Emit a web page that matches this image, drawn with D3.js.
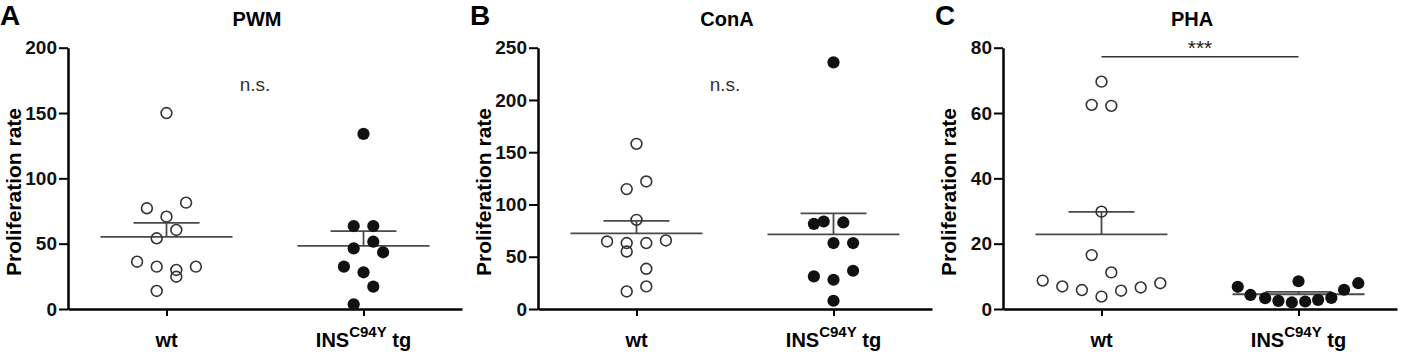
<!DOCTYPE html>
<html>
<head>
<meta charset="utf-8">
<script src="https://cdn.jsdelivr.net/npm/d3@7"></script>
<style>
  body { margin: 0; background: #fff; }
  svg { display: block; font-family: "Liberation Sans", Arial, Helvetica, sans-serif; }
</style>
</head>
<body>
<svg id="chart" width="1411" height="354"></svg>
<script>
//groups on the x axis
var groups = ['wt', 'tg'];

//PWM values, dodge column per point
var pwmWt = [150, 77.1, 81.4, 70.7, 60.5, 54.1, 36.2, 32.4, 29.9, 24.7, 32.4, 13.8];
var pwmWtCol = [0, -2, 2, 0, 1, -1, -3, -1, 1, 1, 3, -1];
var pwmTg = [134, 63.5, 63.5, 51.5, 46.4, 43.4, 32.4, 28.1, 17.1, 3.6];
var pwmTgCol = [0, -1, 1, 1, -1, 2, -2, 0, 1, -1];
var pwmTicks = [0, 50, 100, 150, 200];

//ConA
var conaWt = [158, 122, 114.7, 85.3, 64.6, 63.1, 63.1, 65.6, 55, 38.5, 21.6, 16.8];
var conaWtCol = [0, 1, -1, 0, -3, -1, 1, 3, -1, 1, 1, -1];
var conaTg = [236, 81.5, 83.7, 82.8, 63.1, 63.1, 31.2, 28, 36.6, 7.9];
var conaTgCol = [0, -2, -1, 1, 0, 2, -2, 0, 2, 0];
var conaTicks = [0, 50, 100, 150, 200, 250];

//PHA
var phaWt = [69.6, 62.5, 62.2, 29.8, 16.5, 11.2, 8.7, 6.9, 5.8, 3.8, 5.6, 6.6, 7.9];
var phaWtCol = [0, -1, 1, 0, -1, 1, -6, -4, -2, 0, 2, 4, 6];
var phaTg = [6.8, 4.3, 3.3, 2.5, 2.0, 2.3, 2.8, 3.4, 5.9, 7.9, 8.5];
var phaTgCol = [-6.2, -4.9, -3.4, -2.05, -0.68, 0.68, 2, 3.35, 4.65, 6.1, 0];
var phaTicks = [0, 20, 40, 60, 80];

var panels = [
  {letter: 'A', title: 'PWM', ticks: pwmTicks, wt: pwmWt, wtCol: pwmWtCol, tg: pwmTg, tgCol: pwmTgCol, sig: 'n.s.', left: 68},
  {letter: 'B', title: 'ConA', ticks: conaTicks, wt: conaWt, wtCol: conaWtCol, tg: conaTg, tgCol: conaTgCol, sig: 'n.s.', left: 538},
  {letter: 'C', title: 'PHA', ticks: phaTicks, wt: phaWt, wtCol: phaWtCol, tg: phaTg, tgCol: phaTgCol, sig: '***', left: 1003}
];

var svg = d3.select('#chart');
var top_ = 47.7, bottom = 309, plotW = 394;
var dodge = d3.scaleLinear().domain([0, 1]).range([0, 9.8]);

function sem(arr){
  return d3.deviation(arr) / Math.sqrt(arr.length);
}

panels.forEach(function(p){
  var ox = p.left - 68;
  var g = svg.append('g');
  var y = d3.scaleLinear()
    .domain([0, d3.max(p.ticks)])
    .range([bottom, top_]);
  var x = d3.scalePoint()
    .domain(groups)
    .range([p.left, p.left + plotW])
    .padding(0.5);

  //panel letter and title
  g.append('text')
    .attr('x', ox).attr('y', 25)
    .attr('font-size', 28).attr('font-weight', 'bold')
    .text(p.letter);
  var mid = (x('wt') + x('tg')) / 2;
  g.append('text')
    .attr('x', mid - 8).attr('y', 26)
    .attr('text-anchor', 'middle')
    .attr('font-size', 20).attr('font-weight', 'bold')
    .text(p.title);

  //axes
  var yAxis = g.append('g')
    .attr('transform', 'translate(' + p.left + ',0)')
    .call(d3.axisLeft(y).tickValues(p.ticks).tickSize(9).tickSizeOuter(0).tickPadding(2));
  var xAxis = g.append('g')
    .attr('transform', 'translate(0,' + bottom + ')')
    .call(d3.axisBottom(x).tickSize(7).tickSizeOuter(0).tickFormat(''));
  [yAxis, xAxis].forEach(function(a){
    a.select('.domain').attr('stroke', '#000').attr('stroke-width', 2.5);
    a.selectAll('.tick line').attr('stroke', '#000').attr('stroke-width', 2);
  });
  yAxis.selectAll('.tick text')
    .attr('font-size', 19).attr('font-weight', 'bold')
    .attr('font-family', '"Liberation Sans", Arial, sans-serif')
    .attr('fill', '#111');

  g.append('text')
    .attr('transform', 'translate(' + (p.left - 47) + ',' + 192 + ') rotate(-90)')
    .attr('text-anchor', 'middle')
    .attr('font-size', 21).attr('font-weight', 'bold')
    .text('Proliferation rate');

  //x labels
  g.append('text')
    .attr('x', x('wt')).attr('y', 347)
    .attr('text-anchor', 'middle')
    .attr('font-size', 20).attr('font-weight', 'bold')
    .text('wt');
  var lab = g.append('text')
    .attr('x', x('tg')).attr('y', 347)
    .attr('text-anchor', 'middle')
    .attr('font-size', 20).attr('font-weight', 'bold');
  lab.append('tspan').text('INS');
  lab.append('tspan').attr('font-size', 15).attr('dy', -10).text('C94Y');
  lab.append('tspan').attr('dy', 10).text(' tg');

  //mean and sem
  var sets = [
    {key: 'wt', vals: p.wt, col: p.wtCol, fill: 'none', stroke: '#333', r: 5.4},
    {key: 'tg', vals: p.tg, col: p.tgCol, fill: '#111', stroke: 'none', r: 6.1}
  ];
  sets.forEach(function(s){
    var m = d3.mean(s.vals), e = sem(s.vals), cx = x(s.key);
    var lines = [
      [cx - 66, m, cx + 66, m],
      [cx - 33, m + e, cx + 33, m + e],
      [cx, m, cx, m + e]
    ];
    g.selectAll(null).data(lines).enter().append('line')
      .attr('x1', d => d[0]).attr('y1', d => y(d[1]))
      .attr('x2', d => d[2]).attr('y2', d => y(d[3]))
      .attr('stroke', '#4a4a4a').attr('stroke-width', 1.8);
  });
  sets.forEach(function(s){
    g.selectAll(null).data(s.vals).enter().append('circle')
      .attr('cx', (d, i) => x(s.key) + dodge(s.col[i]))
      .attr('cy', d => y(d))
      .attr('r', s.r)
      .attr('fill', s.fill)
      .attr('stroke', s.stroke)
      .attr('stroke-width', 1.6);
  });

  //significance
  if(p.sig === '***'){
    g.append('line')
      .attr('x1', x('wt')).attr('x2', x('tg'))
      .attr('y1', y(77.2)).attr('y2', y(77.2))
      .attr('stroke', '#333').attr('stroke-width', 1.5);
    g.append('text')
      .attr('x', mid).attr('y', 55)
      .attr('text-anchor', 'middle')
      .attr('font-size', 21).attr('fill', '#222')
      .text(p.sig);
  } else {
    g.append('text')
      .attr('x', mid - 10).attr('y', 91)
      .attr('text-anchor', 'middle')
      .attr('font-size', 19).attr('fill', '#333')
      .text(p.sig);
  }
});
</script>
</body>
</html>
